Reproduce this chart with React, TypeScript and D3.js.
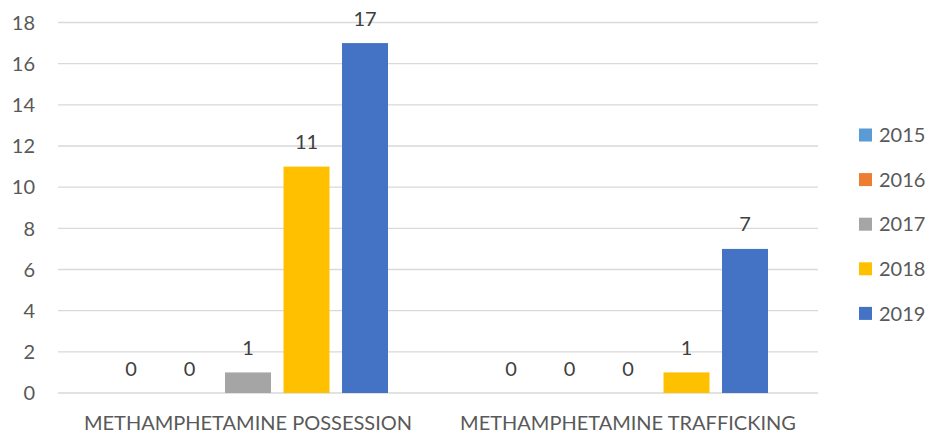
import React from "react";
import * as d3 from "d3";

const categories = ["METHAMPHETAMINE POSSESSION", "METHAMPHETAMINE TRAFFICKING"];
const years = ["2015", "2016", "2017", "2018", "2019"];
const colors = ["#5B9BD5", "#ED7D31", "#A5A5A5", "#FFC000", "#4472C4"];
// One array per year, indexed by category
const values2015 = [0, 0];
const values2016 = [0, 0];
const values2017 = [1, 0];
const values2018 = [11, 1];
const values2019 = [17, 7];
const series = [values2015, values2016, values2017, values2018, values2019];
const yTicks = [0, 2, 4, 6, 8, 10, 12, 14, 16, 18];

const W = 930;
const H = 437;
const FONT = "Lato, 'Open Sans', sans-serif";
const FS = 20;

export default function App() {
  const plotLeft = 58;
  const plotRight = 818;
  const y = d3.scaleLinear().domain([0, 18]).range([393, 22.5]);
  const x0 = d3.scaleBand<string>().domain(categories).range([plotLeft, plotRight]);
  const x1 = d3
    .scaleBand<string>()
    .domain(years)
    .range([-140, 140])
    .paddingInner(0.214)
    .paddingOuter(0);

  return (
    <svg
      width={W}
      height={H}
      style={{ position: "absolute", left: 0, top: 0, background: "#fff" }}
      fontFamily={FONT}
    >
      {yTicks.map((t) => (
        <g key={t}>
          <line
            x1={plotLeft}
            x2={plotRight}
            y1={y(t)}
            y2={y(t)}
            stroke="#D9D9D9"
            strokeWidth={1.3}
          />
          <text
            x={35}
            y={y(t)}
            dy="0.36em"
            textAnchor="end"
            fontSize={FS}
            fill="#595959"
          >
            {t}
          </text>
        </g>
      ))}
      {categories.map((c, ci) => {
        const cx = (x0(c) ?? 0) + x0.bandwidth() / 2;
        return (
          <g key={c}>
            {years.map((yr, si) => {
              const v = series[si][ci];
              const bx = cx + (x1(yr) ?? 0);
              const top = y(v);
              return (
                <g key={yr}>
                  {v > 0 && (
                    <rect
                      x={bx}
                      y={top}
                      width={x1.bandwidth()}
                      height={y(0) - top}
                      fill={colors[si]}
                    />
                  )}
                  <text
                    x={bx + x1.bandwidth() / 2}
                    y={top - 17.5}
                    textAnchor="middle"
                    fontSize={FS}
                    fill="#404040"
                  >
                    {v}
                  </text>
                </g>
              );
            })}
            <text
              x={cx}
              y={430}
              textAnchor="middle"
              fontSize={FS}
              fill="#595959"
            >
              {c}
            </text>
          </g>
        );
      })}
      {years.map((yr, si) => {
        const ly = 135 + si * 44.6;
        return (
          <g key={yr}>
            <rect x={859} y={ly - 6.5} width={13} height={13} fill={colors[si]} />
            <text x={879} y={ly} dy="0.36em" fontSize={FS} fill="#595959">
              {yr}
            </text>
          </g>
        );
      })}
    </svg>
  );
}
